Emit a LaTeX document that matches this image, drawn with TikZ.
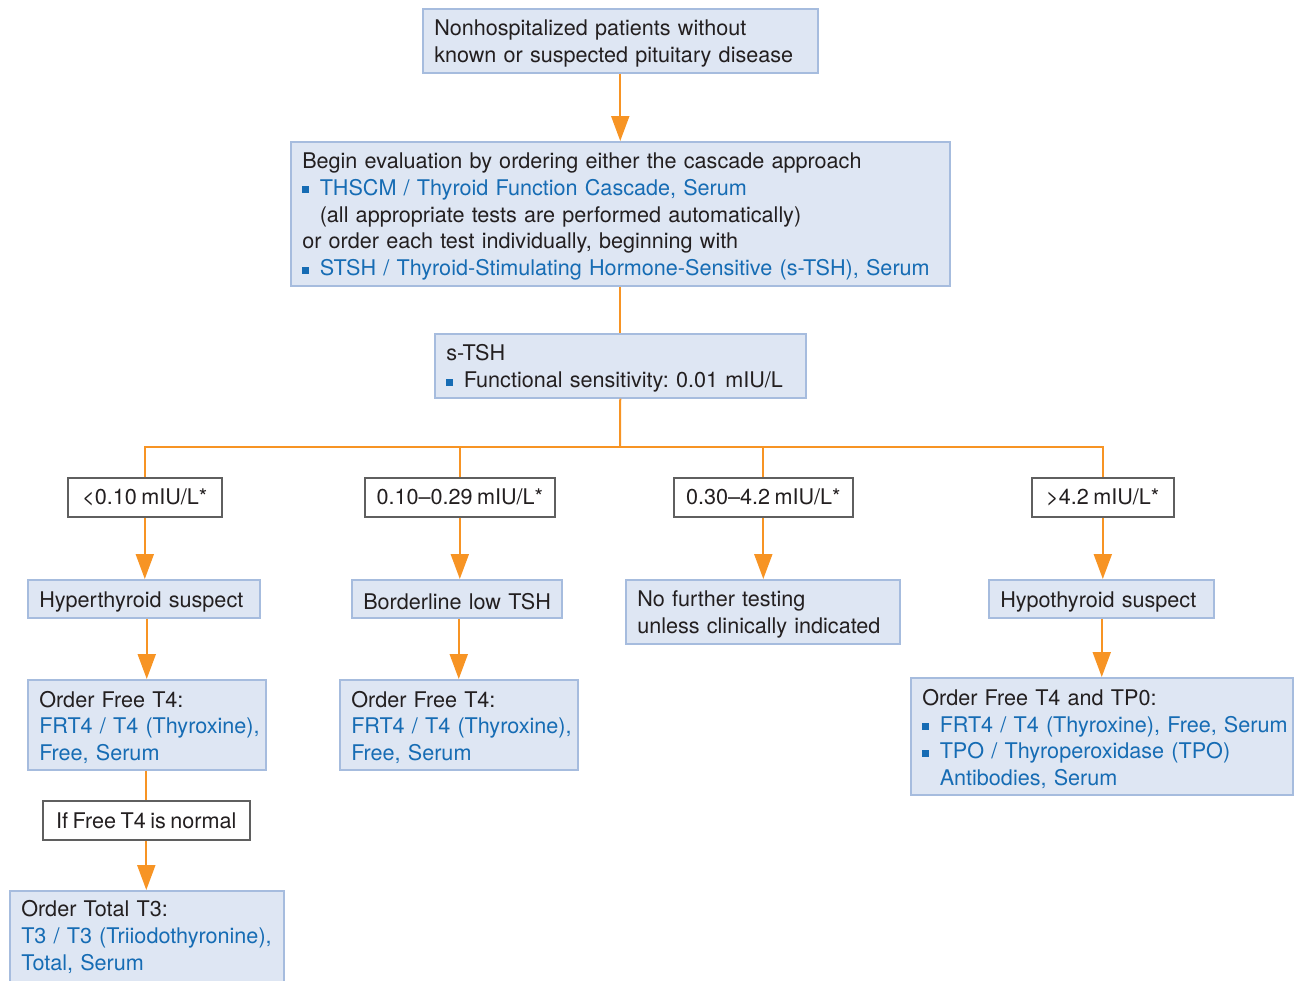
\documentclass[tikz,border=0pt]{standalone}
\usepackage{fontspec}
\setmainfont[WordSpace=0.75]{TeX Gyre Heros}
\usetikzlibrary{arrows.meta}
\definecolor{tblue}{RGB}{22,108,180}
\definecolor{bfill}{RGB}{222,230,243}
\definecolor{bline}{RGB}{166,188,222}
\definecolor{orng}{RGB}{247,148,36}
\definecolor{txt}{RGB}{35,31,32}
\definecolor{gline}{RGB}{95,95,95}
\newcommand{\bul}{\makebox[17.5pt][l]{\color{tblue}\raisebox{2pt}{\rule{7pt}{7pt}}}}
\newcommand{\ind}{\hspace*{17.5pt}}
\newcommand{\bl}[1]{\textcolor{tblue}{#1}}
\frenchspacing
\begin{document}
\begin{tikzpicture}[x=1pt,y=-1pt,
  every node/.style={font=\fontsize{21.6}{26.8}\selectfont, text=txt},
  bbox/.style={draw=bline, line width=1.5pt, fill=bfill, anchor=north west, align=left, inner xsep=11.5pt, inner ysep=0pt, execute at begin node={\rule{0pt}{21.5pt}}},
  cbox/.style={draw=gline, line width=1.6pt, fill=white, anchor=north west, align=center, inner sep=0pt},
  conn/.style={draw=orng, line width=2pt},
  arr/.style={conn, -{Triangle[width=18pt,length=25pt]}}
]
\useasboundingbox (0,0) rectangle (1295,980);
\node[bbox, text width=372pt, minimum height=64pt] (b1) at (422,8) {\mbox{Nonhospitalized patients without}\\\mbox{known or suspected pituitary disease}};
\node[bbox, text width=636pt, minimum height=144pt] (b2) at (290,141) {\mbox{Begin evaluation by ordering either the cascade approach}\\
\mbox{\bul\bl{THSCM / Thyroid Function Cascade, Serum}}\\
\mbox{\ind(all appropriate tests are performed automatically)}\\
\mbox{or order each test individually, beginning with}\\
\mbox{\bul\bl{STSH / Thyroid-Stimulating Hormone-Sensitive (s-TSH), Serum}}};
\node[bbox, text width=348pt, minimum height=64pt] (b3) at (434,333) {s-TSH\\\mbox{\bul Functional sensitivity: 0.01 mIU/L}};
\node[cbox, minimum width=154pt, minimum height=39pt] (ca) at (67,477) {<0.10 mIU/L*};
\node[cbox, minimum width=190pt, minimum height=39pt] (cb) at (364,477) {0.10--0.29 mIU/L*};
\node[cbox, minimum width=179pt, minimum height=39pt] (cc) at (673,477) {0.30--4.2 mIU/L*};
\node[cbox, minimum width=142pt, minimum height=39pt] (cd) at (1031,477) {>4.2 mIU/L*};
\node[bbox, text width=209pt, minimum height=38pt] (ha) at (27,579) {\mbox{Hyperthyroid suspect}};
\node[bbox, text width=187pt, minimum height=38pt] (hb) at (351,579) {\mbox{Borderline low TSH}};
\node[bbox, text width=251pt, minimum height=64pt] (hc) at (625,579) {\mbox{No further testing}\\\mbox{unless clinically indicated}};
\node[bbox, text width=202pt, minimum height=38pt] (hd) at (988,579) {\mbox{Hypothyroid suspect}};
\node[bbox, text width=215pt, minimum height=90pt] (oa) at (27,679) {\mbox{Order Free T4:}\\\mbox{\bl{FRT4 / T4 (Thyroxine),}}\\\mbox{\bl{Free, Serum}}};
\node[bbox, text width=215pt, minimum height=90pt] (ob) at (339,679) {\mbox{Order Free T4:}\\\mbox{\bl{FRT4 / T4 (Thyroxine),}}\\\mbox{\bl{Free, Serum}}};
\node[bbox, text width=359pt, minimum height=117pt] (od) at (910,677) {\mbox{Order Free T4 and TP0:}\\
\mbox{\bul\bl{FRT4 / T4 (Thyroxine), Free, Serum}}\\
\mbox{\bul\bl{TPO / Thyroperoxidase (TPO)}}\\
\mbox{\ind\bl{Antibodies, Serum}}};
\node[cbox, minimum width=207pt, minimum height=39pt] (nf) at (42,800) {If Free T4 is normal};
\node[bbox, text width=251pt, minimum height=111pt] (t3) at (9,890) {\mbox{Order Total T3:}\\\mbox{\bl{T3 / T3 (Triiodothyronine),}}\\\mbox{\bl{Total, Serum}}\\\mbox{}};
\coordinate (br) at (620,447);
\draw[arr] (b1.south) -- (b2.north);
\draw[conn] (b2.south) -- (b3.north);
\draw[conn] (b3.south) -- (br);
\draw[conn] (ca.north) -- (ca.north |- br) -- (cd.north |- br) -- (cd.north);
\draw[conn] (cb.north) -- (cb.north |- br);
\draw[conn] (cc.north) -- (cc.north |- br);
\draw[arr] (ca.south) -- (ca.south |- ha.north);
\draw[arr] (cb.south) -- (cb.south |- hb.north);
\draw[arr] (cc.south) -- (cc.south |- hc.north);
\draw[arr] (cd.south) -- (cd.south |- hd.north);
\draw[arr] (ha.south -| oa.north) -- (oa.north);
\draw[arr] (hb.south -| ob.north) -- (ob.north);
\draw[arr] (hd.south -| od.north) -- (od.north);
\draw[conn] (oa.south -| nf.north) -- (nf.north);
\draw[arr] (nf.south) -- (nf.south |- t3.north);
\end{tikzpicture}
\end{document}
